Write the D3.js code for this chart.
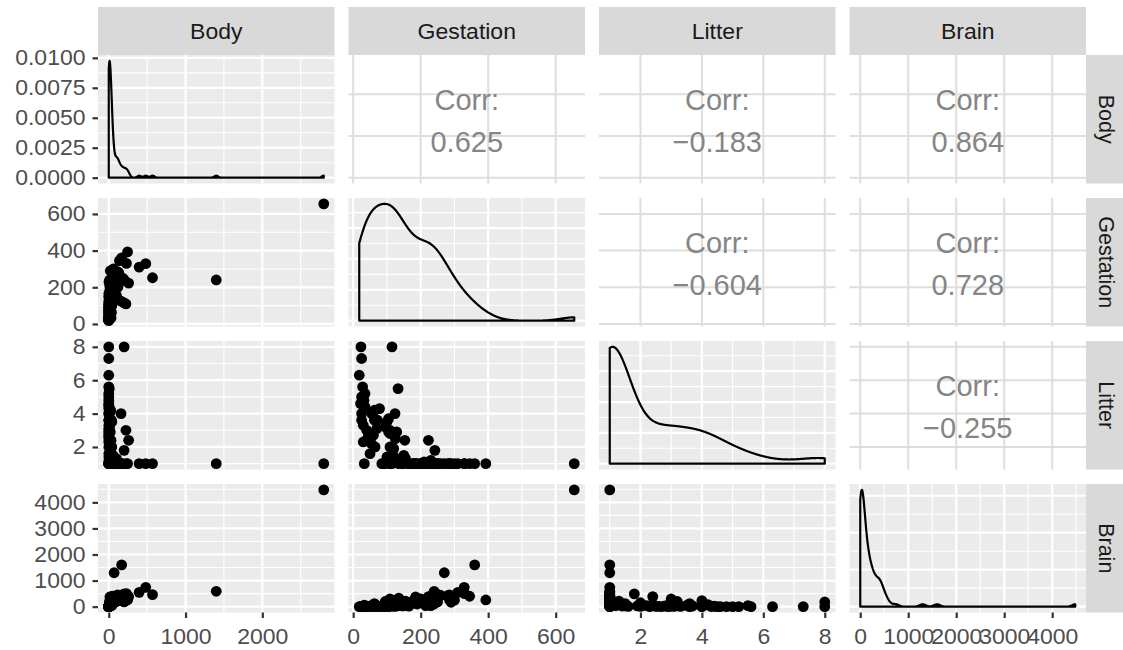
<!DOCTYPE html>
<html>
<head>
<meta charset="utf-8">
<script src="https://cdn.jsdelivr.net/npm/d3@7"></script>
<style>
  body { margin: 0; background: #fff; }
  svg { display: block; }
  text { font-family: "Liberation Sans", Arial, sans-serif; }
</style>
</head>
<body>
<div id="chart"></div>
<script>
// mammal data, one entry per species
const body = [2800, 1400, 570, 482, 396, 245, 168, 70, 200, 259, 200, 224, 160,
  130, 180, 150, 110, 120, 95, 230, 140, 100, 115,
  100, 65, 55, 45, 98, 35, 20, 40, 20, 30, 105, 50, 25, 20, 30, 40, 30, 60, 18, 25,
  12, 11, 15, 6, 4, 10, 25, 7, 3, 2, 1.5, 1, 18, 2, 10, 3, 12,
  0.12, 0.3, 0.02, 0.05, 0.1, 0.4, 0.8, 0.2, 0.5, 1.5, 0.03, 0.25,
  0.02, 0.03, 0.01, 0.5, 1.0, 0.3, 3.0, 35, 1.2, 2.5, 22, 0.8, 30, 14, 3.5, 0.1,
  40, 2, 28, 1.8, 12, 22, 16, 0.6];
const gestation = [655, 240, 252, 329, 310, 393, 360, 270, 115, 223, 242, 109, 124,
  280, 250, 230, 260, 200, 240, 330, 345, 155, 285,
  210, 135, 150, 230, 200, 63, 60, 109, 290, 33, 285, 180, 120, 129, 153, 250, 225, 300, 180, 63,
  54, 165, 185, 90, 110, 95, 120, 133, 40, 44, 50, 125, 118, 100, 140, 230, 210,
  23, 25, 18, 28, 25, 30, 25, 25, 32, 30, 22, 35,
  85, 105, 95, 70, 165, 60, 145, 175, 55, 72, 185, 65, 215, 110, 35, 30,
  100, 150, 190, 115, 240, 110, 105, 78];
const litter = [1, 1, 1, 1, 1, 1, 1, 1, 8, 2.4, 1.8, 3.0, 4.0,
  1, 1, 1, 1, 1, 1, 1, 1, 1.3, 1,
  1, 1, 1.5, 1, 1, 3.6, 4.1, 2.0, 1, 1, 1, 1, 1.2, 2.9, 2.4, 1, 1, 1, 1, 4.2,
  2.2, 1, 1, 1, 2.8, 3.2, 1.9, 5.5, 3.0, 2.6, 1.6, 2.5, 1.5, 1.4, 1.3, 1.2, 1.1,
  8.0, 7.3, 6.3, 5.6, 5.0, 4.5, 4.0, 3.6, 4.8, 3.3, 4.6, 5.2,
  1, 2.9, 1, 3.1, 1, 2.7, 1, 1, 4.0, 3.6, 1, 2.0, 1, 1, 4.4, 2.3,
  3.5, 1, 1, 1, 1, 1, 3.7, 4.3];
const brain = [4480, 590, 460, 740, 550, 257, 1600, 1300, 180, 385, 490, 295, 230,
  420, 380, 350, 430, 300, 320, 500, 400, 210, 450,
  260, 330, 120, 400, 200, 120, 80, 150, 170, 60, 270, 240, 110, 60, 90, 180, 110, 250, 130, 80,
  40, 150, 370, 30, 25, 200, 30, 40, 15, 12, 10, 8, 30, 25, 80, 40, 110,
  1.0, 2.0, 0.4, 0.8, 1.5, 3.0, 4.0, 2.0, 3.5, 10, 0.5, 2.5,
  0.3, 0.5, 0.2, 10, 20, 5, 30, 160, 12, 25, 220, 10, 40, 130, 15, 3,
  45, 35, 100, 20, 100, 140, 25, 6];

const varNames = ["Body", "Gestation", "Litter", "Brain"];

// axis breaks as printed on the chart
const bodyTicks = [0, 1000, 2000];
const gestationTicks = [0, 200, 400, 600];
const litterTicks = [2, 4, 6, 8];
const brainTicks = [0, 1000, 2000, 3000, 4000];
const bodyDensityTicks = [0, 0.0025, 0.005, 0.0075, 0.01];

// correlations printed in the upper panels (row-major order)
const corrValues = [0.625, -0.183, 0.864, -0.604, 0.728, -0.255];

const W = 1123, H = 650;
const x0 = 98, y0 = 55;
const pw = 236.5, ph = 128.5;
const gapX = 14, gapY = 14.5;
const px = c => x0 + c * (pw + gapX);
const py = r => y0 + r * (ph + gapY);
const sx = 1.07; // horizontal text stretch seen in the reference

const series = [body, gestation, litter, brain];
const ticksFor = [bodyTicks, gestationTicks, litterTicks, brainTicks];

const expand = ([a, b]) => { const d = b - a; return [a - 0.05 * d, b + 0.05 * d]; };

// gaussian kde with bw.nrd0, evaluated over the data range like stat_density
function kde(values) {
    const n = values.length;
    const sorted = values.slice().sort(d3.ascending);
    const iqr = d3.quantileSorted(sorted, 0.75) - d3.quantileSorted(sorted, 0.25);
    const lo = Math.min(d3.deviation(values), iqr / 1.34);
    const bw = 0.9 * lo * Math.pow(n, -0.2);
    const [mn, mx] = d3.extent(values);
    return d3.range(512).map(i => {
        const x = mn + (mx - mn) * i / 511;
        const s = d3.sum(values, v => Math.exp(-0.5 * ((x - v) / bw) ** 2));
        return [x, s / (n * bw * Math.sqrt(2 * Math.PI))];
    });
}

function minorOf(ticks, domain) {
    const step = ticks[1] - ticks[0];
    const out = [];
    for (let v = ticks[0] - step / 2; v <= domain[1]; v += step) {
        if (v >= domain[0]) out.push(v);
    }
    return out;
}

const xScales = series.map((s, c) => d3.scaleLinear().domain(expand(d3.extent(s))).range([px(c), px(c) + pw]));
const yScales = series.map((s, r) => d3.scaleLinear().domain(expand(d3.extent(s))).range([py(r) + ph, py(r)]));
const densities = series.map(kde);
const dScales = densities.map((d, i) => d3.scaleLinear()
    .domain(expand([0, d3.max(d, p => p[1])]))
    .range([py(i) + ph, py(i)]));

const svg = d3.select("#chart").append("svg")
    .attr("width", W)
    .attr("height", H);
const defs = svg.append("defs");

const inDomain = (vals, s) => vals.filter(v => v >= s.domain()[0] && v <= s.domain()[1]);

function grid(g, xs, xv, ys, yv, color, width) {
    const [l, r] = xs.range();
    const [b, t] = ys.range();
    g.selectAll(null).data(inDomain(xv, xs)).enter().append("line")
        .attr("x1", d => xs(d)).attr("x2", d => xs(d))
        .attr("y1", t).attr("y2", b)
        .attr("stroke", color).attr("stroke-width", width);
    g.selectAll(null).data(inDomain(yv, ys)).enter().append("line")
        .attr("x1", l).attr("x2", r)
        .attr("y1", d => ys(d)).attr("y2", d => ys(d))
        .attr("stroke", color).attr("stroke-width", width);
}

let k = 0;
for (let r = 0; r < 4; r++) {
    for (let c = 0; c < 4; c++) {
        const xs = xScales[c];
        const g = svg.append("g");

        if (r < c) {
            // upper: correlation text on white with light grid
            const ys = yScales[r];
            grid(g, xs, ticksFor[c], ys, ticksFor[r], "#dedede", 2);
            const cx = px(c) + pw / 2, cy = py(r) + ph / 2;
            g.append("text")
                .attr("x", cx).attr("y", cy - 9)
                .attr("text-anchor", "middle")
                .style("font-size", "29px")
                .style("fill", "#858585")
                .text("Corr:");
            g.append("text")
                .attr("x", cx).attr("y", cy + 32.5)
                .attr("text-anchor", "middle")
                .style("font-size", "29px")
                .style("fill", "#858585")
                .text(d3.format(".3f")(corrValues[k++]));
            continue;
        }

        const ys = r === c ? dScales[r] : yScales[r];
        const yt = r === c ? (r === 0 ? bodyDensityTicks : ys.ticks(4)) : ticksFor[r];

        g.append("rect")
            .attr("x", px(c)).attr("y", py(r))
            .attr("width", pw).attr("height", ph)
            .attr("fill", "#ebebeb");
        grid(g, xs, minorOf(ticksFor[c], xs.domain()), ys, minorOf(yt, ys.domain()), "#fff", 1.1);
        grid(g, xs, ticksFor[c], ys, yt, "#fff", 2.2);

        const clipId = `clip-${r}-${c}`;
        defs.append("clipPath").attr("id", clipId)
            .append("rect")
            .attr("x", px(c)).attr("y", py(r))
            .attr("width", pw).attr("height", ph);
        const marks = g.append("g").attr("clip-path", `url(#${clipId})`);

        if (r === c) {
            const dens = densities[c];
            const pts = [[dens[0][0], 0], ...dens, [dens[dens.length - 1][0], 0]];
            const line = d3.line().x(d => xs(d[0])).y(d => ys(d[1]));
            marks.append("path")
                .attr("d", line(pts) + "Z")
                .attr("fill", "none")
                .attr("stroke", "#000")
                .attr("stroke-width", 2.2)
                .attr("stroke-linejoin", "round");
        } else {
            const xv = series[c], yv = series[r];
            marks.selectAll("circle")
                .data(d3.range(xv.length))
                .enter()
                .append("circle")
                .attr("cx", i => xs(xv[i]))
                .attr("cy", i => ys(yv[i]))
                .attr("r", 5.4)
                .attr("fill", "#000");
        }
    }
}

// axes
function styleAxis(sel) {
    sel.select(".domain").remove();
    sel.selectAll(".tick line").attr("stroke", "#333").attr("stroke-width", 2.2);
    sel.selectAll(".tick text")
        .style("font-size", "21.5px")
        .style("fill", "#4d4d4d")
        .attr("x", function() { return (+d3.select(this).attr("x") || 0) / sx; })
        .attr("transform", `scale(${sx},1)`);
}

for (let r = 0; r < 4; r++) {
    const s = r === 0 ? dScales[0] : yScales[r];
    const axis = d3.axisLeft(s)
        .tickValues(r === 0 ? inDomain(bodyDensityTicks, s) : ticksFor[r])
        .tickSize(5.5)
        .tickPadding(7)
        .tickFormat(r === 0 ? d3.format(".4f") : d3.format("d"));
    svg.append("g")
        .attr("transform", `translate(${px(0)},0)`)
        .call(axis)
        .call(styleAxis);
}

for (let c = 0; c < 4; c++) {
    const axis = d3.axisBottom(xScales[c])
        .tickValues(ticksFor[c])
        .tickSize(5.5)
        .tickPadding(11)
        .tickFormat(d3.format("d"));
    svg.append("g")
        .attr("transform", `translate(0,${py(3) + ph})`)
        .call(axis)
        .call(styleAxis);
}

// strips
varNames.forEach((name, c) => {
    svg.append("rect")
        .attr("x", px(c)).attr("y", 7)
        .attr("width", pw).attr("height", y0 - 7)
        .attr("fill", "#d9d9d9");
    svg.append("text")
        .attr("transform", `translate(${px(c) + pw / 2},39) scale(${sx},1)`)
        .attr("text-anchor", "middle")
        .style("font-size", "21.5px")
        .style("fill", "#1a1a1a")
        .text(name);
});

const stripX = px(3) + pw;
varNames.forEach((name, r) => {
    svg.append("rect")
        .attr("x", stripX).attr("y", py(r))
        .attr("width", W - stripX).attr("height", ph)
        .attr("fill", "#d9d9d9");
    svg.append("text")
        .attr("transform", `translate(${stripX + 13},${py(r) + ph / 2}) rotate(90)`)
        .attr("text-anchor", "middle")
        .style("font-size", "21.5px")
        .style("fill", "#1a1a1a")
        .text(name);
});
</script>
</body>
</html>
